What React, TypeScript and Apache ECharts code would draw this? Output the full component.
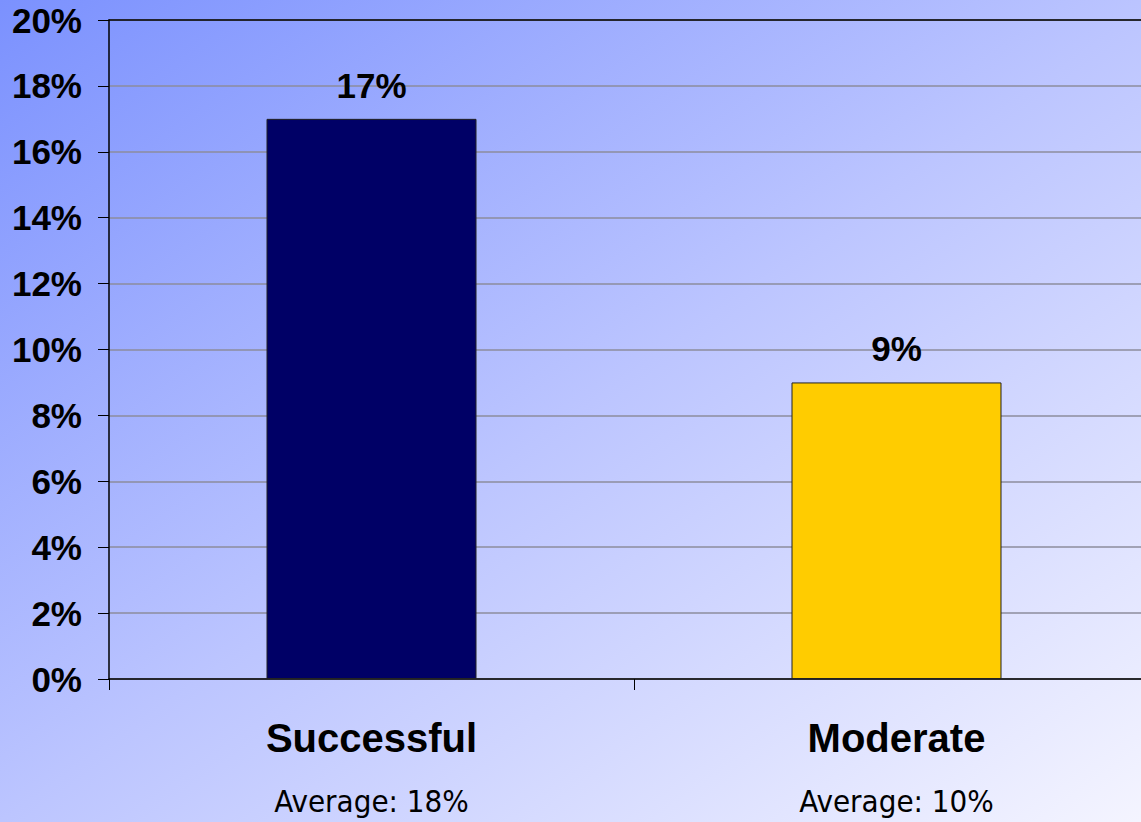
import React, { useEffect, useRef } from "react";
import * as echarts from "echarts";

const categories = ["Successful", "Moderate"];
const values = [17, 9];
const averages = ["Average: 18%", "Average: 10%"];
const barColors = ["#000066", "#ffcc00"];
const yTicks = { min: 0, max: 20, interval: 2 };

export default function App() {
  const ref = useRef<HTMLDivElement>(null);
  useEffect(() => {
    document.body.style.margin = "0";
    const chart = echarts.init(ref.current!, null, { renderer: "svg" });
    chart.setOption({
      animation: false,
      backgroundColor: new echarts.graphic.LinearGradient(0, 0, 1, 1, [
        { offset: 0, color: "#7b91fe" },
        { offset: 0.5, color: "#bcc5ff" },
        { offset: 1, color: "#f5f5ff" },
      ]),
      grid: { left: 109, right: 0, top: 20, bottom: 143, containLabel: false },
      xAxis: [
        {
          type: "category",
          data: categories,
          axisLine: { lineStyle: { color: "#000", width: 1.5 } },
          axisTick: { show: true, length: 11, lineStyle: { color: "#000" } },
          axisLabel: {
            margin: 36,
            formatter: (v: string, i: number) => `{a|${v}}\n{b|${averages[i]}}`,
            rich: {
              a: {
                fontFamily: "'Liberation Sans', Arial, sans-serif",
                fontWeight: "bold",
                fontSize: 40,
                color: "#000",
                lineHeight: 46,
              },
              b: {
                fontFamily: "'Liberation Sans Narrow', 'DejaVu Sans Condensed', sans-serif",
                fontSize: 31,
                color: "#000",
                lineHeight: 80,
              },
            },
          },
        },
        {
          type: "category",
          position: "top",
          data: categories,
          axisLine: { show: true, lineStyle: { color: "#000", width: 1.5 } },
          axisTick: { show: false },
          axisLabel: { show: false },
        },
      ],
      yAxis: {
        type: "value",
        min: yTicks.min,
        max: yTicks.max,
        interval: yTicks.interval,
        axisLine: { show: true, lineStyle: { color: "#000", width: 1.5 } },
        axisTick: { show: true, length: 11, lineStyle: { color: "#000" } },
        splitLine: { show: true, lineStyle: { color: "#8c8c9c", width: 1.5 } },
        axisLabel: {
          margin: 27,
          formatter: "{value}%",
          fontFamily: "'Liberation Sans', Arial, sans-serif",
          fontWeight: "bold",
          fontSize: 35,
          color: "#000",
        },
      },
      series: [
        {
          type: "bar",
          barWidth: "40%",
          data: values.map((v, i) => ({
            value: v,
            itemStyle: { color: barColors[i], borderColor: "#222", borderWidth: 1 },
          })),
          label: {
            show: true,
            position: "top",
            distance: 16,
            formatter: "{c}%",
            fontFamily: "'Liberation Sans', Arial, sans-serif",
            fontWeight: "bold",
            fontSize: 35,
            color: "#000",
          },
        },
      ],
    });
    return () => chart.dispose();
  }, []);
  return (
    <div style={{ width: 1141, height: 822, overflow: "hidden" }}>
      <div ref={ref} style={{ width: 1159, height: 822 }} />
    </div>
  );
}
